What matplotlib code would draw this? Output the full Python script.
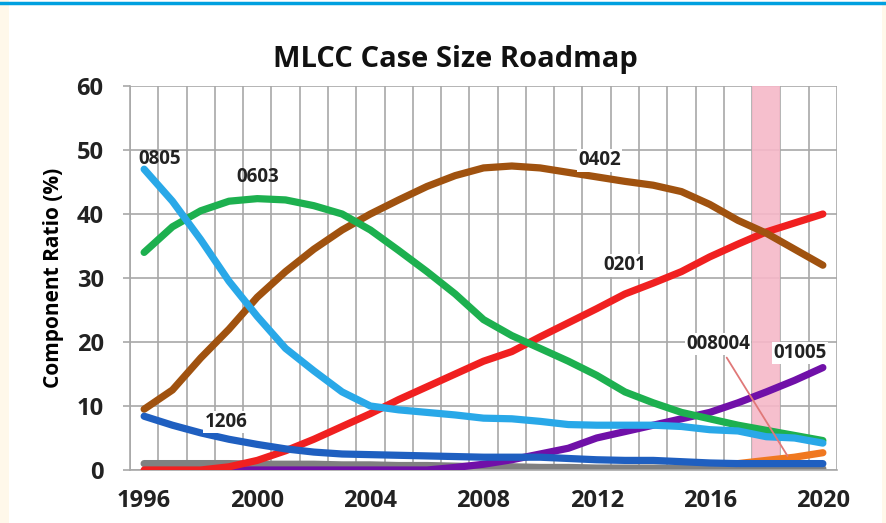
import numpy as np
import matplotlib
matplotlib.use('Agg')
import matplotlib.pyplot as plt
from matplotlib.lines import Line2D
from matplotlib.patches import Rectangle

plt.rcParams['font.family'] = ['Open Sans', 'DejaVu Sans']

years = list(range(1996, 2021))

# component ratio (%) per case size
s0805 = [47, 42, 36, 29.5, 24, 19, 15.5, 12.2, 10, 9.4, 9, 8.6, 8.1, 8, 7.6, 7.1, 7, 7, 7, 6.8, 6.3, 6.1, 5.2, 5, 4.2]
s0603 = [34, 38, 40.5, 42, 42.4, 42.2, 41.3, 40, 37.5, 34.3, 31, 27.5, 23.5, 21, 19, 17, 14.8, 12.2, 10.5, 9, 8, 7, 6.2, 5.4, 4.6]
s0402 = [9.5, 12.5, 17.5, 22, 27, 31, 34.5, 37.5, 40, 42.2, 44.3, 46, 47.2, 47.5, 47.2, 46.5, 45.8, 45.1, 44.5, 43.5, 41.5, 39, 37, 34.5, 32]
s0201 = [0, 0, 0, 0.5, 1.5, 3, 4.8, 6.8, 8.8, 11, 13, 15, 17, 18.5, 20.8, 23, 25.2, 27.5, 29.2, 31, 33.3, 35.3, 37.2, 38.6, 40]
s1206 = [8.4, 7, 5.8, 4.8, 4, 3.3, 2.8, 2.5, 2.4, 2.3, 2.2, 2.1, 2, 2, 2, 1.8, 1.6, 1.5, 1.5, 1.3, 1.1, 1, 1, 1, 1]
s01005 = [None, None, None, 0, 0, 0, 0, 0, 0, 0, 0, 0.4, 0.9, 1.6, 2.5, 3.4, 5, 6, 7, 8, 9, 10.5, 12.2, 14, 16]
s008004 = [None] * 21 + [1.0, 1.5, 2.0, 2.7]
sother = [1, 1, 1, 1, 0.9, 0.9, 0.9, 0.8, 0.8, 0.7, 0.7, 0.6, 0.5, 0.5, 0.4, 0.4, 0.3, 0.3, 0.3, 0.3, 0.2, 0.2, 0.2, 0.2, 0.2]

fig = plt.figure(figsize=(8.87, 5.23), dpi=100)
fig.patch.set_facecolor('white')
# cream side strips and blue top rule
fig.add_artist(Rectangle((0, 0), 9 / 887, 1, transform=fig.transFigure, color='#FFF8EA', lw=0))
fig.add_artist(Rectangle((882 / 887, 0), 5 / 887, 1, transform=fig.transFigure, color='#FFF8EA', lw=0))
fig.add_artist(Line2D([0, 1], [1 - 3 / 523, 1 - 3 / 523], transform=fig.transFigure, color='#00A0E0', lw=2.5))

ax = fig.add_axes([130 / 887, 1 - 470 / 523, 707 / 887, 384 / 523])

ax.axvspan(2017.5, 2018.5, color='#F6B8C8', alpha=0.9, lw=0, zorder=1)

def arr(v):
    return np.array([np.nan if a is None else a for a in v], dtype=float)

lw = 5.2
ax.plot(years, arr(sother), color='#808080', lw=lw, zorder=2, solid_capstyle='round')
ax.plot(years, arr(s01005), color='#7010A8', lw=lw, zorder=3, solid_capstyle='round')
ax.plot(years, arr(s0201), color='#F02020', lw=lw, zorder=3, solid_capstyle='round')
ax.plot(years, arr(s008004), color='#F07820', lw=lw, zorder=3, solid_capstyle='round')
ax.plot(years, arr(s1206), color='#1F5FC0', lw=lw, zorder=4, solid_capstyle='round')
ax.plot(years, arr(s0402), color='#A0520F', lw=lw, zorder=3, solid_capstyle='round')
ax.plot(years, arr(s0603), color='#1DB04F', lw=lw, zorder=3, solid_capstyle='round')
ax.plot(years, arr(s0805), color='#29A8E8', lw=lw, zorder=4, solid_capstyle='round')

ax.set_xlim(1995.5, 2020.5)
ax.set_ylim(0, 60)
ax.set_xticks(np.arange(1995.5, 2021, 1), minor=True)
ax.set_xticks(range(1996, 2021, 4))
ax.set_yticks(range(0, 61, 10))
ax.grid(True, which='minor', axis='x', color='#A8A8A8', lw=1.2, zorder=0)
ax.grid(True, which='major', axis='y', color='#A8A8A8', lw=1.2, zorder=0)
ax.grid(False, which='major', axis='x')
ax.set_axisbelow(True)
for s in ['top', 'right']:
    ax.spines[s].set_visible(False)
for s in ['left', 'bottom']:
    ax.spines[s].set_color('#A8A8A8')
    ax.spines[s].set_linewidth(1.2)
ax.tick_params(axis='x', which='both', length=0, pad=14, labelsize=17)
ax.tick_params(axis='y', length=5, color='#A8A8A8', width=1.2, pad=14, labelsize=17)
for t in ax.get_xticklabels() + ax.get_yticklabels():
    t.set_fontweight('bold')
    t.set_color('#222222')

ax.set_ylabel('Component Ratio (%)', fontsize=15, fontweight='bold', labelpad=9)
fig.text(455 / 887, 1 - 60 / 523, 'MLCC Case Size Roadmap', ha='center', va='center',
         fontsize=21, fontweight='bold', color='#111111')

box = dict(facecolor='white', edgecolor='none', pad=1)
lab = dict(fontsize=13.5, fontweight='bold', color='#222222', ha='center', va='center', zorder=6)
ax.text(1996.56, 48.6, '0805', **lab)
ax.text(2000.0, 45.8, '0603', **lab)
ax.text(2012.1, 48.4, '0402', bbox=box, **lab)
ax.text(2013.0, 32.0, '0201', bbox=box, **lab)
ax.text(1998.9, 7.5, '1206', bbox=box, **lab)
ax.text(2019.2, 18.3, '01005', bbox=box, **lab)
ax.annotate('008004', xy=(2018.75, 2.2), xytext=(2016.3, 19.7), bbox=box,
            arrowprops=dict(arrowstyle='-', color='#E07878', lw=1.3, shrinkA=2, shrinkB=0),
            **lab)

fig.savefig('out.png', dpi=100)
